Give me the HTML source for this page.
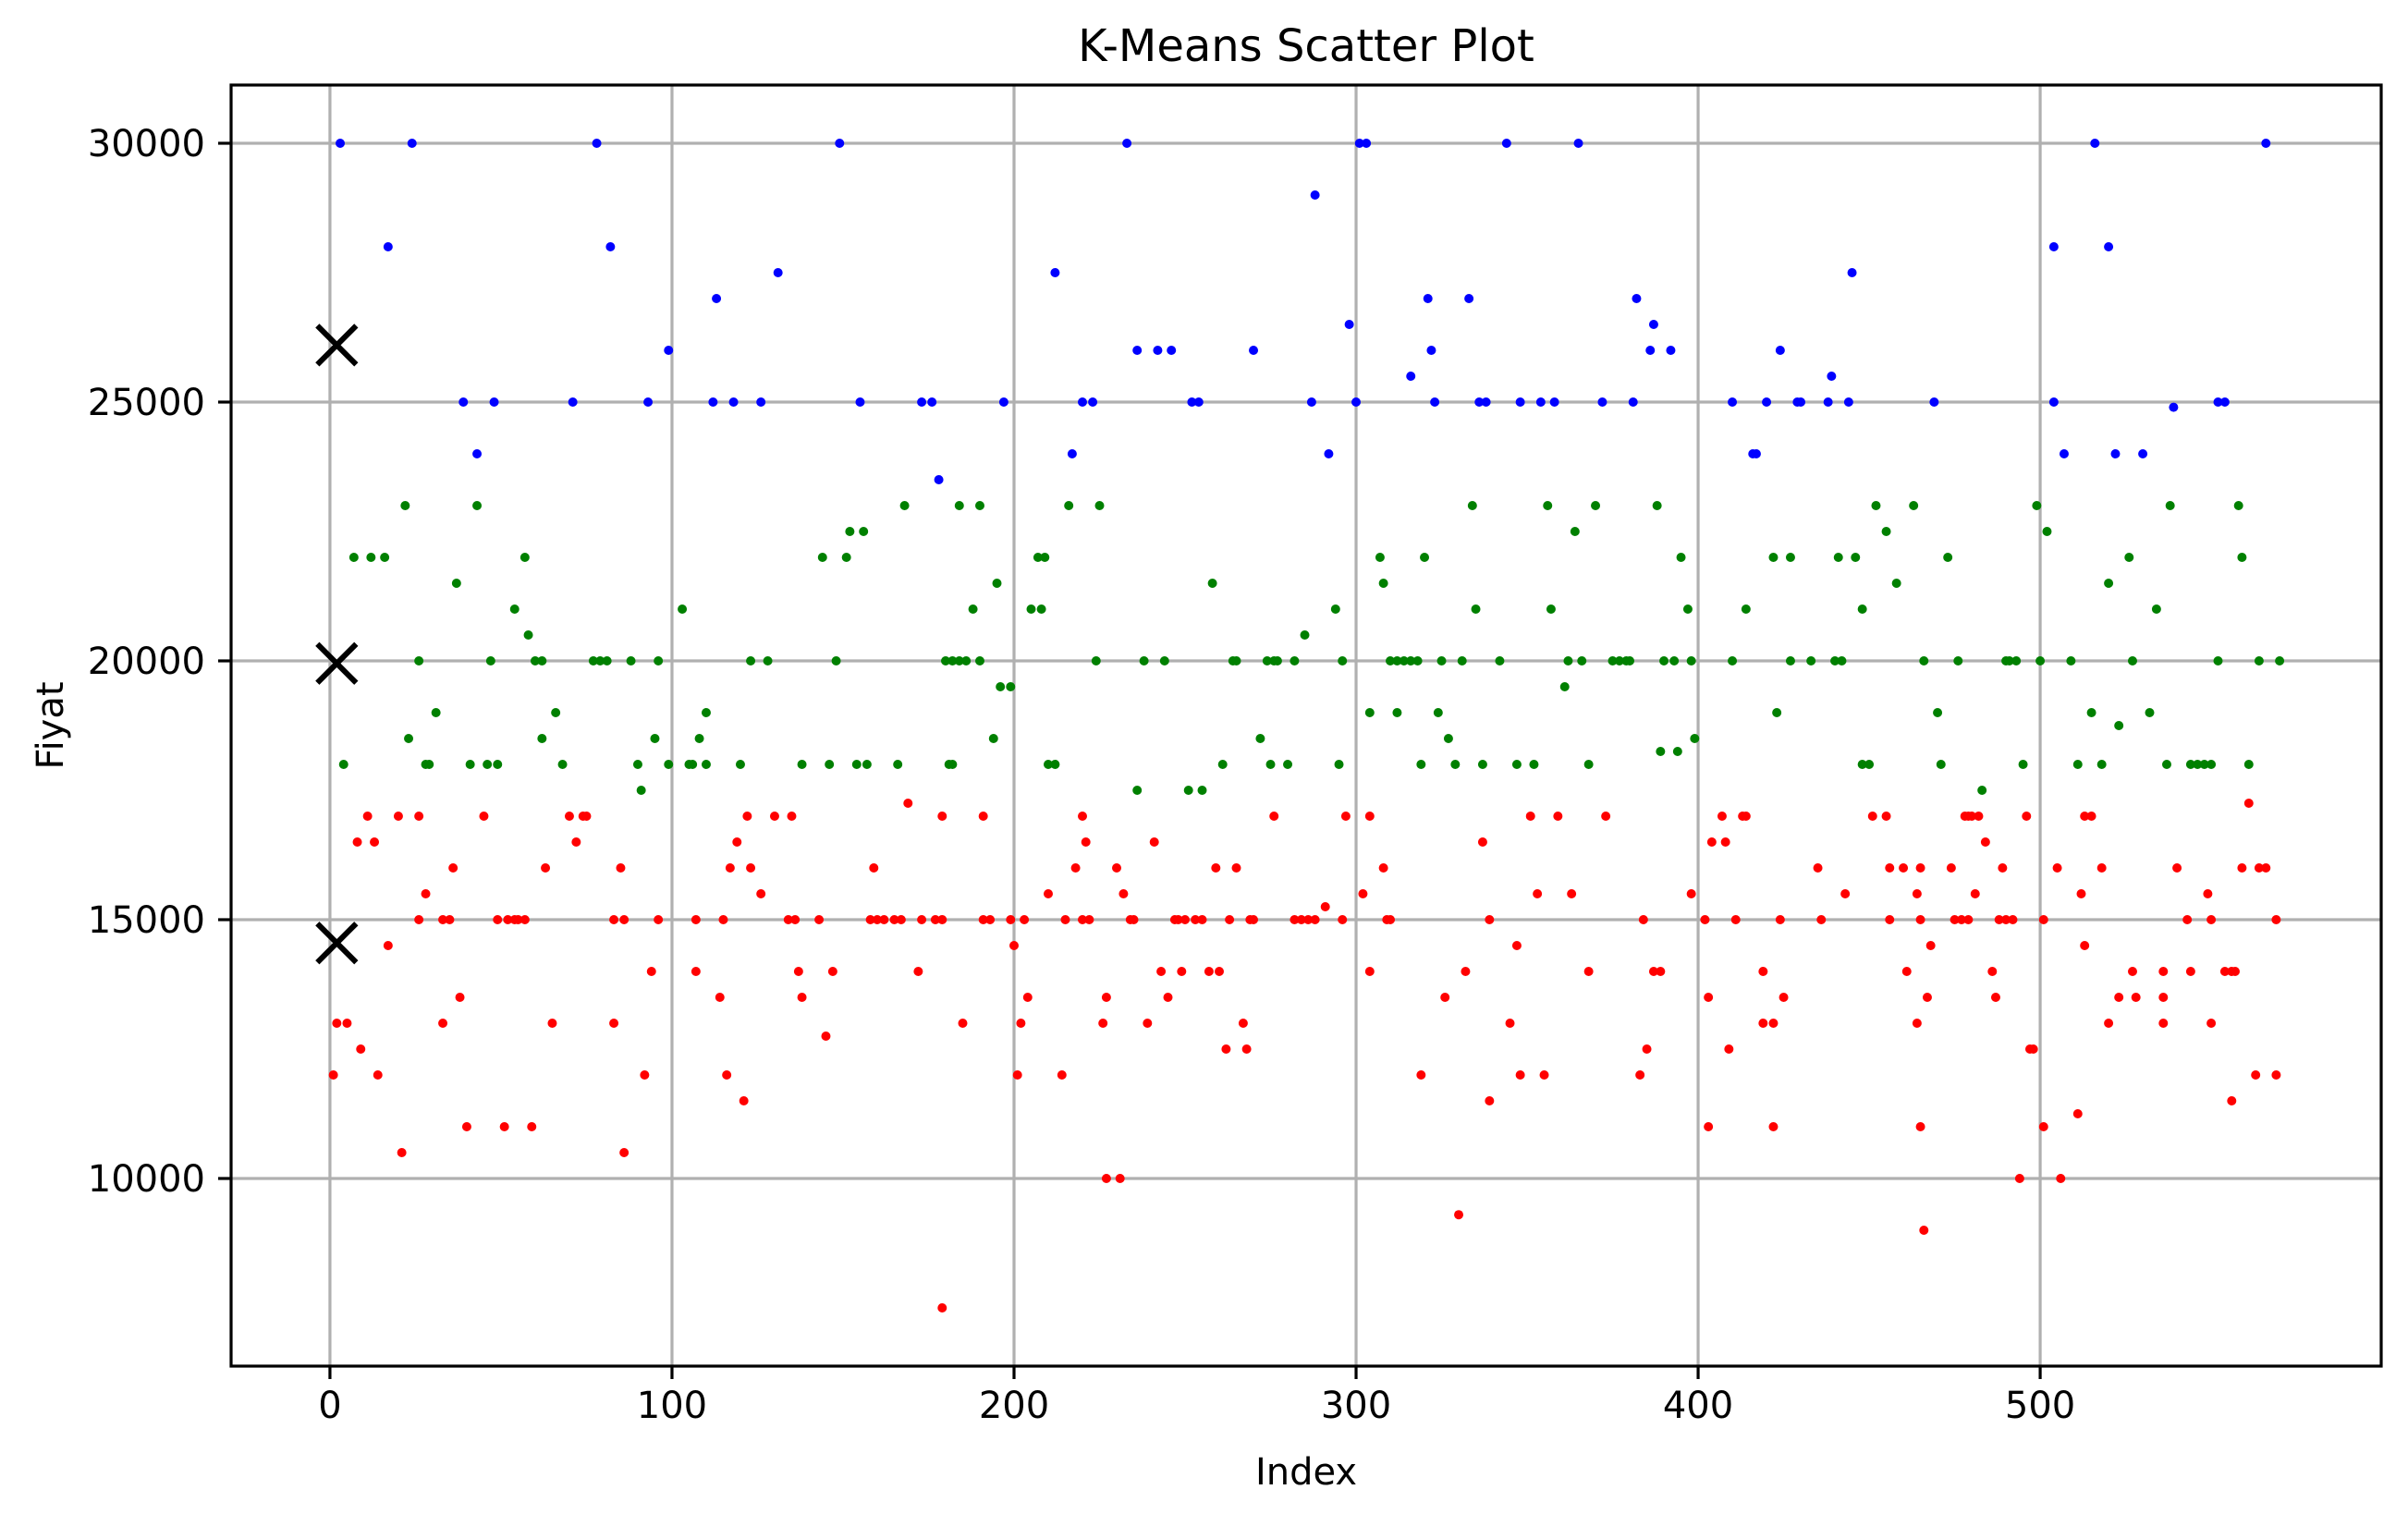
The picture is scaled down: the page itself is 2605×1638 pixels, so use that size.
<!DOCTYPE html>
<html><head><meta charset="utf-8"><style>
html,body{margin:0;padding:0;background:#fff}
svg{display:block}
text{font-family:"DejaVu Sans","Liberation Sans",sans-serif;fill:#000}
</style></head><body>
<svg id="chart" width="2605" height="1638" viewBox="0 0 2605 1638" xmlns="http://www.w3.org/2000/svg">
<rect width="2605" height="1638" fill="#fff"/>
<g id="grid"></g>
<g id="pts"></g>
<g id="cents"></g>
<rect x="250" y="92" width="2326" height="1386" fill="none" stroke="#000" stroke-width="3.2"/>
<g id="ticks"></g>
<text x="1413" y="66" font-size="48" text-anchor="middle">K-Means Scatter Plot</text>
<text x="1413" y="1606" font-size="40" text-anchor="middle">Index</text>
<text x="0" y="0" font-size="40" text-anchor="middle" transform="translate(68,785) rotate(-90)">Fiyat</text>
</svg>
<script>
const xTicks=[0,100,200,300,400,500];
const yTicks=[10000,15000,20000,25000,30000];
const blueIdx=[3,24,78,149,233,288,301,303,344,365,516,566,17,82,504,520,131,212,445,113,321,333,382,298,387,99,236,242,246,270,322,386,392,424,316,439,39,48,71,93,112,118,126,155,173,176,197,220,223,252,254,287,300,323,336,338,348,354,358,372,381,410,420,429,430,438,444,469,504,539,552,554,43,217,292,416,417,507,522,530,178];
const blueVal=[30000,30000,30000,30000,30000,29000,30000,30000,30000,30000,30000,30000,28000,28000,28000,28000,27500,27500,27500,27000,27000,27000,27000,26500,26500,26000,26000,26000,26000,26000,26000,26000,26000,26000,25500,25500,25000,25000,25000,25000,25000,25000,25000,25000,25000,25000,25000,25000,25000,25000,25000,25000,25000,25000,25000,25000,25000,25000,25000,25000,25000,25000,25000,25000,25000,25000,25000,25000,25000,24900,25000,25000,24000,24000,24000,24000,24000,24000,24000,24000,23500];
const greenIdx=[22,43,168,184,190,216,225,334,356,370,388,452,463,499,538,558,152,156,364,455,502,7,12,16,57,144,151,207,209,307,320,395,422,427,441,446,473,526,559,37,258,195,308,458,520,54,103,188,205,208,294,335,357,397,414,448,534,58,285,26,47,60,62,77,79,81,88,96,148,180,182,184,186,190,123,128,224,238,244,264,265,274,276,277,282,296,310,312,314,316,318,325,331,342,362,366,375,377,379,380,390,393,398,410,427,433,440,442,466,476,490,491,493,500,509,527,552,564,570,196,199,361,31,66,110,304,312,324,423,470,515,532,523,23,62,95,108,194,272,327,399,389,394,4,28,29,46,49,68,99,105,106,110,120,138,146,154,157,166,181,182,210,212,261,275,280,295,319,329,337,347,352,368,448,450,471,495,511,518,537,544,546,548,550,561,41,90,91,236,251,255,483];
const greenVal=[23000,23000,23000,23000,23000,23000,23000,23000,23000,23000,23000,23000,23000,23000,23000,23000,22500,22500,22500,22500,22500,22000,22000,22000,22000,22000,22000,22000,22000,22000,22000,22000,22000,22000,22000,22000,22000,22000,22000,21500,21500,21500,21500,21500,21500,21000,21000,21000,21000,21000,21000,21000,21000,21000,21000,21000,21000,20500,20500,20000,20000,20000,20000,20000,20000,20000,20000,20000,20000,20000,20000,20000,20000,20000,20000,20000,20000,20000,20000,20000,20000,20000,20000,20000,20000,20000,20000,20000,20000,20000,20000,20000,20000,20000,20000,20000,20000,20000,20000,20000,20000,20000,20000,20000,20000,20000,20000,20000,20000,20000,20000,20000,20000,20000,20000,20000,20000,20000,20000,19500,19500,19500,19000,19000,19000,19000,19000,19000,19000,19000,19000,19000,18750,18500,18500,18500,18500,18500,18500,18500,18500,18250,18250,18000,18000,18000,18000,18000,18000,18000,18000,18000,18000,18000,18000,18000,18000,18000,18000,18000,18000,18000,18000,18000,18000,18000,18000,18000,18000,18000,18000,18000,18000,18000,18000,18000,18000,18000,18000,18000,18000,18000,18000,18000,18000,18000,18000,17500,17500,17500,17500,17500,17500,17500];
const redIdx=[11,20,26,45,70,74,75,122,130,135,179,191,220,276,297,304,351,359,373,407,413,414,451,455,478,479,480,482,496,513,515,561,8,13,72,119,221,241,404,408,337,484,169,36,63,85,117,123,159,218,230,259,265,308,435,456,460,465,474,489,505,518,540,559,564,566,28,126,210,232,302,353,363,398,443,464,481,512,549,26,33,35,49,52,54,55,57,83,86,96,107,115,134,136,143,158,160,162,165,167,173,177,179,191,193,199,203,215,220,222,234,235,247,248,250,253,255,263,269,270,282,284,286,288,296,309,310,339,384,402,411,424,436,456,465,475,477,479,488,490,492,501,543,550,569,17,200,347,468,513,94,107,137,147,172,243,249,257,260,304,332,368,387,389,419,461,486,527,536,544,554,556,557,38,114,138,204,227,245,326,403,425,467,487,523,528,536,2,5,33,65,83,185,202,226,239,267,345,419,422,464,520,536,550,145,9,262,268,385,409,497,498,1,14,92,116,201,214,319,348,355,383,563,569,121,339,556,511,40,51,59,403,422,465,501,21,86,227,231,494,506,330,466,179,291];
const redVal=[17000,17000,17000,17000,17000,17000,17000,17000,17000,17000,17000,17000,17000,17000,17000,17000,17000,17000,17000,17000,17000,17000,17000,17000,17000,17000,17000,17000,17000,17000,17000,17250,16500,16500,16500,16500,16500,16500,16500,16500,16500,16500,17250,16000,16000,16000,16000,16000,16000,16000,16000,16000,16000,16000,16000,16000,16000,16000,16000,16000,16000,16000,16000,16000,16000,16000,15500,15500,15500,15500,15500,15500,15500,15500,15500,15500,15500,15500,15500,15000,15000,15000,15000,15000,15000,15000,15000,15000,15000,15000,15000,15000,15000,15000,15000,15000,15000,15000,15000,15000,15000,15000,15000,15000,15000,15000,15000,15000,15000,15000,15000,15000,15000,15000,15000,15000,15000,15000,15000,15000,15000,15000,15000,15000,15000,15000,15000,15000,15000,15000,15000,15000,15000,15000,15000,15000,15000,15000,15000,15000,15000,15000,15000,15000,15000,14500,14500,14500,14500,14500,14000,14000,14000,14000,14000,14000,14000,14000,14000,14000,14000,14000,14000,14000,14000,14000,14000,14000,14000,14000,14000,14000,14000,13500,13500,13500,13500,13500,13500,13500,13500,13500,13500,13500,13500,13500,13500,13000,13000,13000,13000,13000,13000,13000,13000,13000,13000,13000,13000,13000,13000,13000,13000,13000,12750,12500,12500,12500,12500,12500,12500,12500,12000,12000,12000,12000,12000,12000,12000,12000,12000,12000,12000,12000,11500,11500,11500,11250,11000,11000,11000,11000,11000,11000,11000,10500,10500,10000,10000,10000,10000,9300,9000,7500,15250];
const centIdx=[2,2,2];
const centVal=[26100,19950,14550];

const L=250,R=2576,T=92,B=1478;
const xMin=-28.9,xMax=599.7,yMin=6375,yMax=31125;
function sx(v){return L+(v-xMin)/(xMax-xMin)*(R-L);}
function sy(v){return B-(v-yMin)/(yMax-yMin)*(B-T);}
const NS='http://www.w3.org/2000/svg';
function mk(tag,attrs,parent){const e=document.createElementNS(NS,tag);for(const k in attrs)e.setAttribute(k,attrs[k]);parent.appendChild(e);return e;}
const grid=document.getElementById('grid'),ticks=document.getElementById('ticks');
xTicks.forEach(t=>{
  const x=sx(t);
  const g=mk('line',{x1:x,x2:x,y1:T,y2:B,stroke:'#b0b0b0','stroke-width':3.2},grid);
  
  
  const tk=mk('line',{x1:x,x2:x,y1:B,y2:B+14,stroke:'#000','stroke-width':3.2},ticks);
  
  
  const tx=mk('text',{x:x,y:B+56,'font-size':40,'text-anchor':'middle'},ticks);
  tx.textContent=String(t);
  
  
});
yTicks.forEach(t=>{
  const y=sy(t);
  const g=mk('line',{x1:L,x2:R,y1:y,y2:y,stroke:'#b0b0b0','stroke-width':3.2},grid);
  
  
  const tk=mk('line',{x1:L-14,x2:L,y1:y,y2:y,stroke:'#000','stroke-width':3.2},ticks);
  
  
  const tx=mk('text',{x:L-28,y:y+14,'font-size':40,'text-anchor':'end'},ticks);
  tx.textContent=String(t);
  
  
});
const pts=document.getElementById('pts');
function series(idx,val,color,name){
  idx.forEach((ix,i)=>{
    const c=mk('circle',{cx:sx(ix),cy:sy(val[i]),r:5,fill:color},pts);
    
    
  });
}
series(redIdx,redVal,'#ff0000','red-cluster-point');
series(greenIdx,greenVal,'#008000','green-cluster-point');
series(blueIdx,blueVal,'#0000ff','blue-cluster-point');
const cents=document.getElementById('cents');
centIdx.forEach((ix,i)=>{
  const x=sx(ix),y=sy(centVal[i]),h=21;
  const p=mk('path',{d:`M${x-h},${y-h}L${x+h},${y+h}M${x-h},${y+h}L${x+h},${y-h}`,stroke:'#000','stroke-width':6,fill:'none'},cents);
  
  
});
</script>
</body></html>
